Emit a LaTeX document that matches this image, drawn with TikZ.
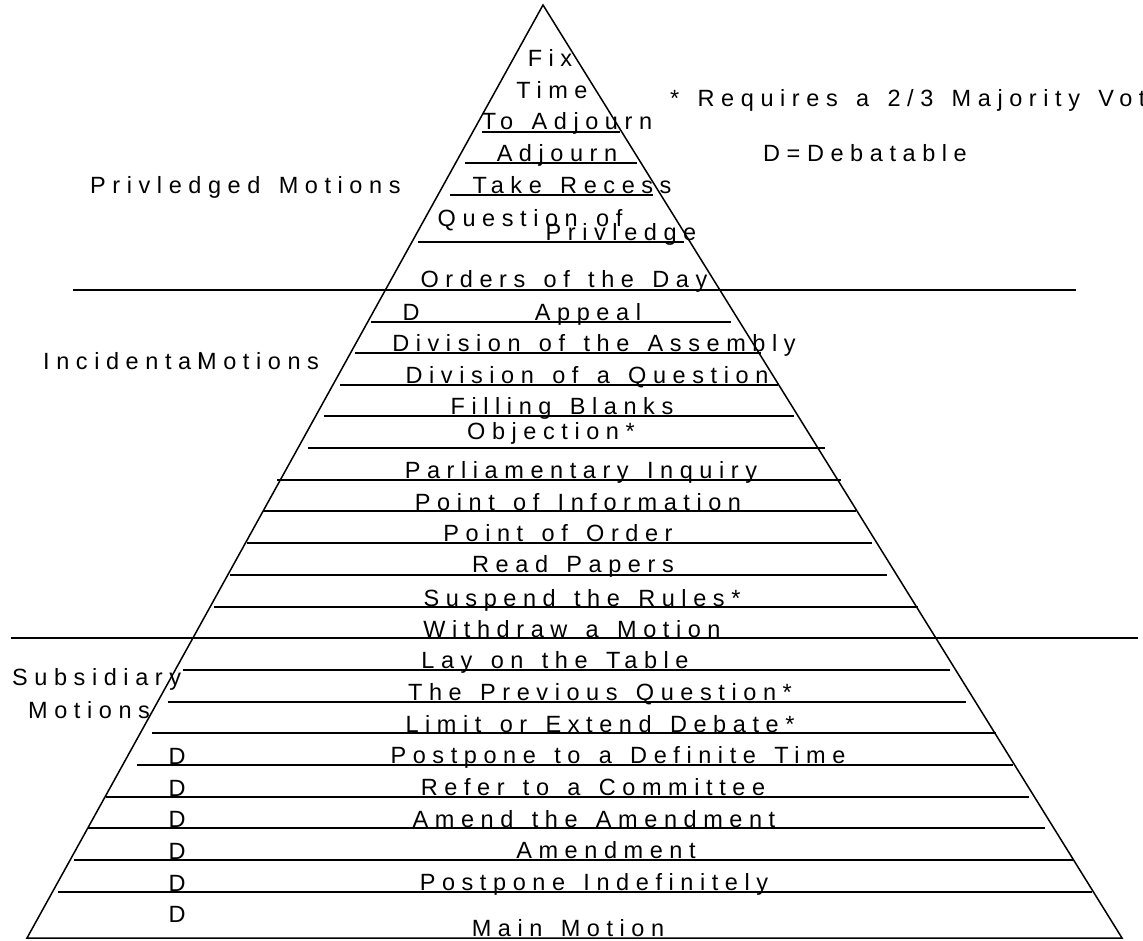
\documentclass[tikz,border=0pt]{standalone}
\usepackage{fontspec}
\setmainfont[LetterSpace=28,WordSpace=1.4]{Liberation Sans}
\begin{document}
\begin{tikzpicture}[x=1pt,y=-1pt,
    motion/.style ={anchor=base, inner sep=0pt, font=\fontsize{23.5}{28}\selectfont},
    sidetext/.style ={motion, anchor=base west},
    rule/.style ={line width=1.5pt}]
   \useasboundingbox (0,0) rectangle (1143,941);
   \clip (0,0) rectangle (1143,941);
   % pyramid
   \coordinate (top) at (543,5);
   \coordinate (left) at (27,938);
   \coordinate (right) at (1122,938);
   \draw[rule] (top) -- (right) -- (left) -- cycle;
   % section borders
   \coordinate (b1l) at (73,290);  \coordinate (b1r) at (1076,290);
   \coordinate (b2l) at (11,638);  \coordinate (b2r) at (1138,638);
   \draw[rule] (b1l) -- (b1r);
   \draw[rule] (b2l) -- (b2r);
   % rows
   \draw[rule] (482,132) -- (620,132);
   \draw[rule] (465,163) -- (637,163);
   \draw[rule] (450,195) -- (653,195);
   \draw[rule] (418,242) -- (684,242);
   \draw[rule] (371,322) -- (731,322);
   \draw[rule] (355,353) -- (761,353);
   \draw[rule] (340,385) -- (778,385);
   \draw[rule] (324,416) -- (794,416);
   \draw[rule] (308,448) -- (825,448);
   \draw[rule] (277,480) -- (841,480);
   \draw[rule] (263,511) -- (856,511);
   \draw[rule] (247,543) -- (872,543);
   \draw[rule] (230,575) -- (887,575);
   \draw[rule] (214,607) -- (918,607);
   \draw[rule] (183,670) -- (950,670);
   \draw[rule] (168,702) -- (966,702);
   \draw[rule] (152,733) -- (996,733);
   \draw[rule] (137,765) -- (1013,765);
   \draw[rule] (106,797) -- (1029,797);
   \draw[rule] (88,828) -- (1045,828);
   \draw[rule] (74,860) -- (1074,860);
   \draw[rule] (58,892) -- (1092,892);
   % privileged motions
   \node[motion] (fix) at (550,67) {Fix};
   \node[motion] (time) at (552,99) {Time};
   \node[motion] (toadjourn) at (567,130) {To Adjourn};
   \node[motion] (adjourn) at (557,162) {Adjourn};
   \node[motion] (recess) at (572,194) {Take Recess};
   \node[motion] (question) at (530,227) {Question of};
   \node[motion] (privledge) at (621,241) {Privledge};
   \node[motion] (orders) at (564,288) {Orders of the Day};
   % incidental motions
   \node[motion] (appealD) at (411,320) {D};
   \node[motion] (appeal) at (588,320) {Appeal};
   \node[motion] (assembly) at (594,352) {Division of the Assembly};
   \node[motion] (divquestion) at (587,383) {Division of a Question};
   \node[motion] (blanks) at (562,414) {Filling Blanks};
   \node[motion] (objection) at (551,439) {Objection*};
   \node[motion] (inquiry) at (581,478) {Parliamentary Inquiry};
   \node[motion] (information) at (578,510) {Point of Information};
   \node[motion] (order) at (558,541) {Point of Order};
   \node[motion] (papers) at (573,572) {Read Papers};
   \node[motion] (rules) at (582,606) {Suspend the Rules*};
   \node[motion] (withdraw) at (572,637) {Withdraw a Motion};
   % subsidiary motions
   \node[motion] (table) at (555,668) {Lay on the Table};
   \node[motion] (previous) at (600,700) {The Previous Question*};
   \node[motion] (limit) at (600,732) {Limit or Extend Debate*};
   \node[motion] (definite) at (618,763) {Postpone to a Definite Time};
   \node[motion] (committee) at (593,795) {Refer to a Committee};
   \node[motion] (amendamend) at (594,827) {Amend the Amendment};
   \node[motion] (amendment) at (606,858) {Amendment};
   \node[motion] (indefinite) at (594,890) {Postpone Indefinitely};
   \node[motion] (main) at (568,936) {Main Motion};
   \node[motion] (definiteD) at (177,764) {D};
   \node[motion] (committeeD) at (177,796) {D};
   \node[motion] (amendamendD) at (177,827) {D};
   \node[motion] (amendmentD) at (177,859) {D};
   \node[motion] (indefiniteD) at (177,891) {D};
   \node[motion] (mainD) at (177,922) {D};
   % section names
   \node[sidetext] (privname) at (90,194) {Privledged Motions};
   \node[sidetext] (incname) at (43,369) {Incidental};
   \node[sidetext] (incmotions) at (197,369) {Motions};
   \node[sidetext] (subname) at (12,685) {Subsidiary};
   \node[sidetext] (submotions) at (28,718) {Motions};
   % key
   \node[sidetext] (majority) at (670,107) {* Requires a 2/3 Majority Vote};
   \node[sidetext] (debatable) at (763,162) {D=Debatable};
 \end{tikzpicture}
\end{document}
